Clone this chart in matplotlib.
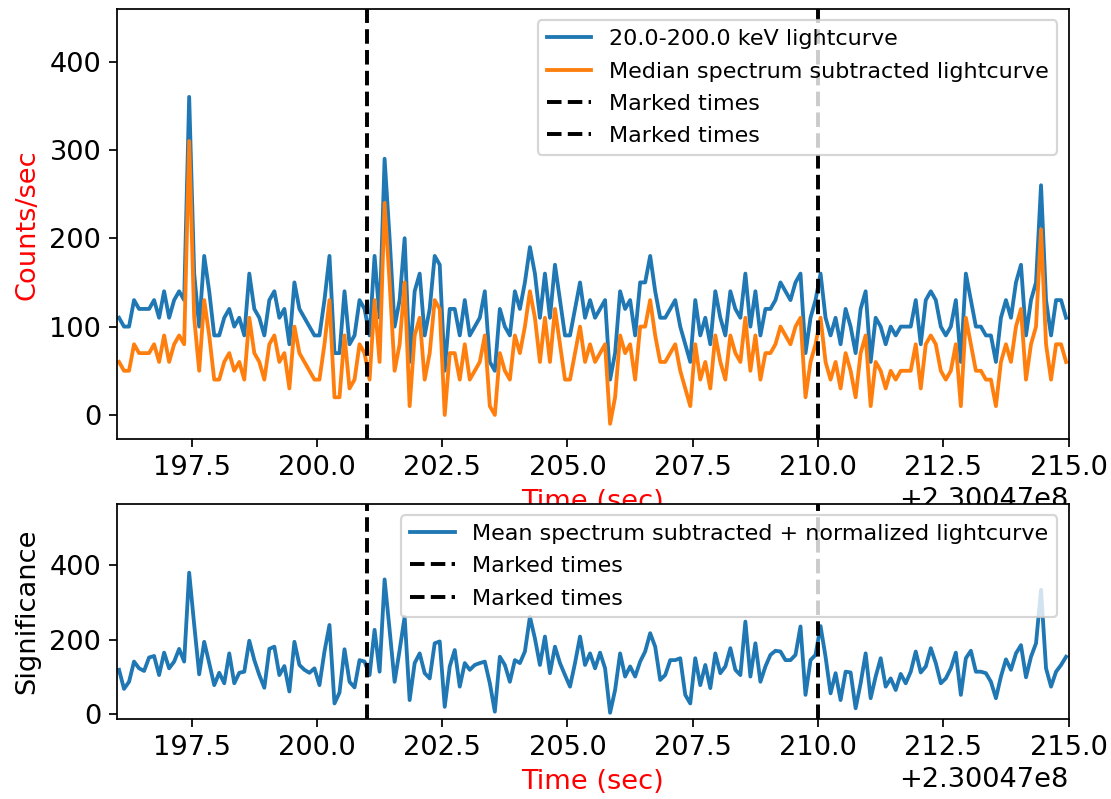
import numpy as np
import matplotlib
matplotlib.use("Agg")
import matplotlib.pyplot as plt

# Time binning (0.1 s bins, absolute mission time in seconds)
T_OFFSET = 230047000.0
t_first = 196.05
bin_width = 0.1

# 20.0-200.0 keV rate (counts/sec), one value per bin
counts = [
    110, 100, 100, 130, 120, 120, 120, 130, 110, 140,
    110, 130, 140, 130, 360, 160, 100, 180, 140, 90,
    90, 110, 120, 100, 110, 90, 160, 120, 110, 90,
    130, 140, 110, 120, 80, 150, 120, 110, 100, 90,
    90, 130, 180, 70, 70, 140, 80, 90, 130, 120,
    90, 180, 110, 290, 200, 100, 130, 200, 60, 140,
    160, 90, 120, 180, 170, 50, 120, 120, 90, 130,
    90, 100, 110, 140, 60, 50, 120, 100, 90, 140,
    120, 150, 190, 160, 110, 160, 110, 170, 130, 90,
    90, 120, 150, 110, 130, 110, 120, 130, 40, 70,
    140, 120, 130, 90, 150, 150, 180, 140, 110, 110,
    120, 130, 100, 80, 60, 130, 90, 110, 80, 140,
    110, 90, 140, 120, 110, 160, 100, 140, 90, 120,
    120, 130, 150, 140, 130, 150, 160, 70, 110, 130,
    160, 110, 90, 110, 80, 120, 100, 70, 120, 140,
    60, 110, 100, 80, 100, 90, 100, 100, 100, 130,
    80, 130, 140, 130, 100, 90, 100, 130, 60, 160,
    130, 100, 100, 90, 90, 60, 110, 130, 110, 150,
    170, 90, 130, 150, 260, 130, 90, 130, 130, 110,
]

# Same rate after subtracting the median spectrum
median_sub = [
    60, 50, 50, 80, 70, 70, 70, 80, 60, 90,
    60, 80, 90, 80, 310, 110, 50, 130, 90, 40,
    40, 60, 70, 50, 60, 40, 110, 70, 60, 40,
    80, 90, 60, 70, 30, 100, 70, 60, 50, 40,
    40, 80, 130, 20, 20, 90, 30, 40, 80, 70,
    40, 130, 60, 240, 150, 50, 80, 150, 10, 90,
    110, 40, 70, 130, 120, 0, 70, 70, 40, 80,
    40, 50, 60, 90, 10, 0, 70, 50, 40, 90,
    70, 100, 140, 110, 60, 110, 60, 120, 80, 40,
    40, 70, 100, 60, 80, 60, 70, 80, -10, 20,
    90, 70, 80, 40, 100, 100, 130, 90, 60, 60,
    70, 80, 50, 30, 10, 80, 40, 60, 30, 90,
    60, 40, 90, 70, 60, 110, 50, 90, 40, 70,
    70, 80, 100, 90, 80, 100, 110, 20, 60, 80,
    110, 60, 40, 60, 30, 70, 50, 20, 70, 90,
    10, 60, 50, 30, 50, 40, 50, 50, 50, 80,
    30, 80, 90, 80, 50, 40, 50, 80, 10, 110,
    80, 50, 50, 40, 40, 10, 60, 80, 60, 100,
    120, 40, 80, 100, 210, 80, 40, 80, 80, 60,
]

# Mean spectrum subtracted + normalized lightcurve (significance)
significance = [
    119, 68, 87, 141, 123, 116, 152, 156, 105, 165,
    123, 141, 175, 141, 379, 240, 107, 194, 137, 78,
    111, 83, 163, 83, 111, 114, 197, 145, 105, 71,
    175, 181, 105, 129, 61, 194, 132, 119, 111, 123,
    78, 168, 239, 29, 58, 174, 87, 72, 145, 141,
    105, 226, 114, 361, 226, 87, 172, 261, 38, 137,
    163, 110, 96, 190, 195, 20, 128, 172, 74, 137,
    119, 132, 137, 141, 83, 7, 154, 132, 87, 145,
    137, 168, 261, 203, 132, 208, 110, 181, 137, 105,
    74, 137, 208, 132, 163, 123, 165, 123, 4, 65,
    163, 101, 128, 101, 141, 168, 217, 181, 92, 105,
    145, 145, 150, 52, 29, 150, 78, 132, 70, 163,
    110, 128, 177, 119, 105, 248, 101, 190, 87, 128,
    159, 170, 168, 145, 145, 159, 235, 52, 145, 159,
    236, 154, 56, 110, 38, 114, 112, 16, 83, 163,
    43, 101, 150, 74, 96, 65, 108, 83, 114, 168,
    112, 128, 177, 137, 83, 96, 123, 165, 52, 150,
    170, 114, 114, 110, 87, 43, 101, 147, 119, 163,
    185, 99, 154, 190, 333, 123, 74, 114, 132, 154,
]

marked = [201.0, 210.0]
x_range = (196.0, 215.0)
x_ticks = [197.5, 200.0, 202.5, 205.0, 207.5, 210.0, 212.5, 215.0]

times = T_OFFSET + t_first + bin_width * np.arange(len(counts))
marked_abs = [T_OFFSET + m for m in marked]
xlim_abs = (T_OFFSET + x_range[0], T_OFFSET + x_range[1])
xticks_abs = [T_OFFSET + x for x in x_ticks]

LABEL_FS = 12.5
LEGEND_FS = 10.2
LEGEND_SPACING = 0.55
DATA_LW = 1.75
MARK_LW = 1.8

fig = plt.figure(figsize=(7.077, 5.090), dpi=157)
W, H = 1111.0, 799.0
ax1 = fig.add_axes([116.5 / W, 1 - 439.3 / H, 952 / W, 430 / H])
ax2 = fig.add_axes([116.5 / W, 1 - 719.3 / H, 952 / W, 215.3 / H])

# Upper panel: raw and median-subtracted lightcurves
ax1.plot(times, counts, color="#1f77b4", lw=DATA_LW, label="20.0-200.0 keV lightcurve")
ax1.plot(times, median_sub, color="#ff7f0e", lw=DATA_LW,
         label="Median spectrum subtracted lightcurve")
for m in marked_abs:
    ax1.axvline(m, color="k", ls="--", lw=MARK_LW, label="Marked times")
ax1.set_xlim(*xlim_abs)
ax1.set_ylim(-27.5, 459.3)
ax1.set_yticks([0, 100, 200, 300, 400])
ax1.set_xticks(xticks_abs)
ax1.tick_params(labelsize=LABEL_FS)
ax1.xaxis.get_offset_text().set_fontsize(LABEL_FS)
ax1.set_xlabel("Time (sec)", color="red", fontsize=LABEL_FS)
ax1.set_ylabel("Counts/sec", color="red", fontsize=LABEL_FS)
ax1.legend(loc="upper right", fontsize=LEGEND_FS, labelspacing=LEGEND_SPACING)

# Lower panel: normalized significance
ax2.plot(times, significance, color="#1f77b4", lw=DATA_LW,
         label="Mean spectrum subtracted + normalized lightcurve")
for m in marked_abs:
    ax2.axvline(m, color="k", ls="--", lw=MARK_LW, label="Marked times")
ax2.set_xlim(*xlim_abs)
ax2.set_ylim(-13.4, 563)
ax2.set_yticks([0, 200, 400])
ax2.set_xticks(xticks_abs)
ax2.tick_params(labelsize=LABEL_FS)
ax2.xaxis.get_offset_text().set_fontsize(LABEL_FS)
ax2.set_xlabel("Time (sec)", color="red", fontsize=LABEL_FS)
ax2.set_ylabel("Significance", fontsize=LABEL_FS)
ax2.legend(loc="upper right", fontsize=LEGEND_FS, labelspacing=LEGEND_SPACING)

fig.savefig("out.png", dpi=157)
